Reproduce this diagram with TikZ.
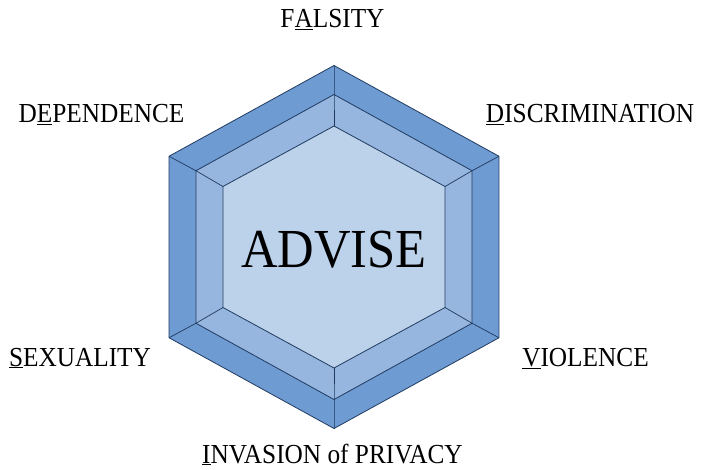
\documentclass[tikz,border=0pt]{standalone}
\usepackage{fontspec}
\setmainfont{Liberation Serif}
\newfontfamily\labelfont[FakeStretch=0.92]{Liberation Serif}
\usetikzlibrary{calc}
\definecolor{RingOuter}{HTML}{6F9BD3}
\definecolor{RingMiddle}{HTML}{97B6DF}
\definecolor{RingInner}{HTML}{BCD2EB}
\definecolor{EdgeColor}{HTML}{1F3A5F}
\newcommand{\keyletter}[1]{\underline{#1}}

\begin{document}
\begin{tikzpicture}[x=1pt,y=-1pt,
      facet/.style={draw=EdgeColor,line width=0.8pt,line join=miter},
      ridge/.style={draw=EdgeColor,line width=0.7pt},
      riskname/.style={font=\labelfont\fontsize{27.5}{30}\selectfont,anchor=base,inner sep=0pt},
      advise/.style={font=\labelfont\fontsize{55}{60}\selectfont,anchor=base,inner sep=0pt}
    ]
    \useasboundingbox (0,0) rectangle (703,470);
    % corners of the three hexagons, pointy top
    \foreach \a [count=\k] in {90,30,-30,-90,-150,150}{
      \coordinate (o\k) at ({334+190.5*cos(\a)},{247-181.5*sin(\a)});
      \coordinate (m\k) at ({334+159.4*cos(\a)},{247-152.5*sin(\a)});
      \coordinate (i\k) at ({334+128.2*cos(\a)},{247-121*sin(\a)});
    }
    \filldraw[facet,fill=RingOuter] (o1) -- (o2) -- (o3) -- (o4) -- (o5) -- (o6) -- cycle;
    \filldraw[facet,fill=RingMiddle] (m1) -- (m2) -- (m3) -- (m4) -- (m5) -- (m6) -- cycle;
    \filldraw[facet,fill=RingInner] (i1) -- (i2) -- (i3) -- (i4) -- (i5) -- (i6) -- cycle;
    \foreach \k in {1,...,6} \draw[ridge] (o\k) -- (m\k) -- (i\k);
    \node[advise] (advise) at (334,267) {ADVISE};
    \node[riskname] (falsity) at (332.5,28) {F\keyletter{A}LSITY};
    \node[riskname] (dependence) at (101.5,123) {D\keyletter{E}PENDENCE};
    \node[riskname] (discrimination) at (590,123) {\keyletter{D}ISCRIMINATION};
    \node[riskname] (sexuality) at (80,366) {\keyletter{S}EXUALITY};
    \node[riskname] (violence) at (585.5,366) {\keyletter{V}IOLENCE};
    \node[riskname] (invasion) at (332.5,463) {\keyletter{I}NVASION of PRIVACY};
  \end{tikzpicture}
\end{document}
